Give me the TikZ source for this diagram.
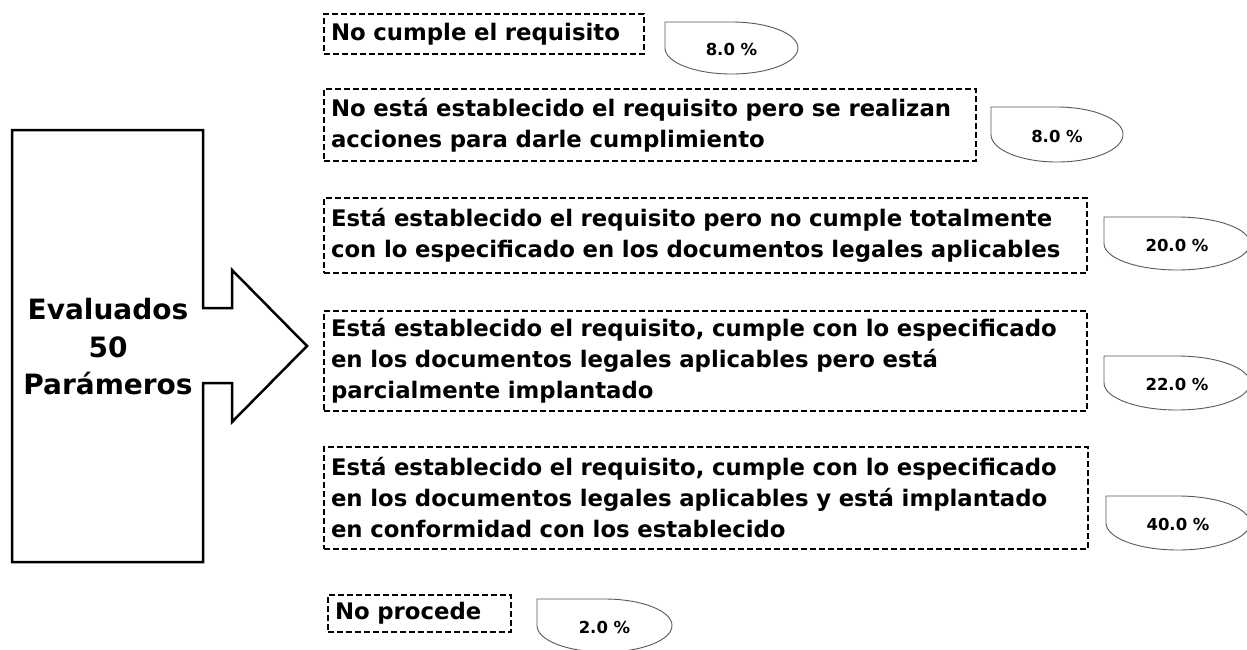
\documentclass[tikz,border=0pt]{standalone}
\usepackage{fontspec}
\setmainfont{DejaVu Sans}
\tikzset{
  dbox/.style={draw, line width=2pt, dash pattern=on 6pt off 3pt, anchor=north west,
    inner xsep=7pt, inner ysep=0pt, align=left,
    font=\bfseries\fontsize{22.8}{31}\selectfont},
  callout/.style={draw=black!65, line width=0.9pt, fill=white},
  pct/.style={font=\bfseries\fontsize{16.5}{18}\selectfont, inner sep=0pt},
  bigarrow/.style={draw, line width=2.5pt, line join=miter},
  evtext/.style={font=\bfseries\fontsize{28}{37.5}\selectfont, align=center, inner sep=0pt}
}
\newcommand\pctbox[6]{%
  \pgfmathsetmacro\cx{(#2+#4)/2}%
  \pgfmathsetmacro\cy{(#3+#5)/2}%
  \pgfmathsetmacro\kx{0.5523*(#4-#2)/2}%
  \pgfmathsetmacro\ky{0.5523*(#5-#3)/2}%
  \draw[callout] (#2,#3) -- (\cx,#3)
    .. controls ({\cx+\kx},#3) and (#4,{\cy-\ky}) .. (#4,\cy)
    .. controls (#4,{\cy+\ky}) and ({\cx+\kx},#5) .. (\cx,#5)
    .. controls ({\cx-\kx},#5) and (#2,{\cy+\ky}) .. (#2,\cy) -- cycle;
  \node[pct] (#1) at (\cx,{\cy+1.5}) {#6};%
}
\begin{document}
\begin{tikzpicture}[x=1pt,y=-1pt]
\useasboundingbox (0,0) rectangle (1247,649);
\clip (0,0) rectangle (1247,649);
\fill[white] (0,0) rectangle (1247,649);

% big arrow
\draw[bigarrow] (12,130) -- (203,130) -- (203,308) -- (232,308) -- (232,270)
  -- (307,346) -- (232,422) -- (232,383) -- (203,383) -- (203,562) -- (12,562) -- cycle;
\node[evtext] (ev) at (108,347) {Evaluados\\50\\Parámeros};

% dashed boxes
\node[dbox, text width=306pt, minimum height=40pt] (b1) at (323,13) {No cumple el requisito};
\node[dbox, text width=638pt, minimum height=72pt] (b2) at (323,88) {No está establecido el requisito pero se realizan\\acciones para darle cumplimiento};
\node[dbox, text width=749pt, minimum height=75pt] (b3) at (323,197) {Está establecido el requisito pero no cumple totalmente\\con lo especificado en los documentos legales aplicables};
\node[dbox, text width=749pt, minimum height=100pt] (b4) at (323,310) {Está establecido el requisito, cumple con lo especificado\\en los documentos legales aplicables pero está\\parcialmente implantado};
\node[dbox, text width=750pt, minimum height=102pt] (b5) at (323,446) {Está establecido el requisito, cumple con lo especificado\\en los documentos legales aplicables y está implantado\\en conformidad con los establecido};
\node[dbox, text width=169pt, minimum height=37pt] (b6) at (327,594) {No procede};

% percentage callouts
\pctbox{p1}{665}{22}{798}{74}{8.0 \%}
\pctbox{p2}{991}{107}{1123}{162}{8.0 \%}
\pctbox{p3}{1104}{217}{1250}{270}{20.0 \%}
\pctbox{p4}{1104}{356}{1250}{410}{22.0 \%}
\pctbox{p5}{1106}{496}{1250}{550}{40.0 \%}
\pctbox{p6}{537}{599}{672}{652}{2.0 \%}
\end{tikzpicture}
\end{document}
